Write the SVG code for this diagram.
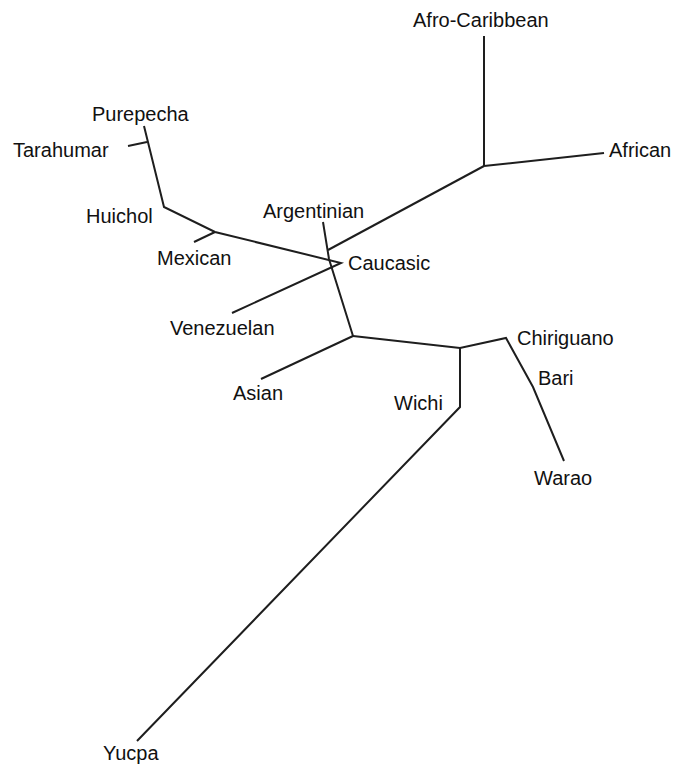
<svg xmlns="http://www.w3.org/2000/svg" width="680" height="771" viewBox="0 0 680 771">
  <style>
    .edge { fill: none; stroke: #1e1e1e; stroke-width: 2; stroke-linecap: butt; stroke-linejoin: miter; }
    .lbl { font-family: "Liberation Sans", Arial, Helvetica, sans-serif; font-size: 20px; fill: #111; }
  </style>
  <rect width="680" height="771" fill="#ffffff"/>

  <!-- tree branches -->
  <g id="connectors">
    <line class="edge" x1="484" y1="36" x2="484" y2="166"/>
    <line class="edge" x1="484" y1="166" x2="604" y2="153"/>
    <line class="edge" x1="484" y1="166" x2="328" y2="250"/>
    <polyline class="edge" points="323,222 329,259 353,336"/>
    <polyline class="edge" points="144,126 164,207 215,232 341,263 232,313"/>
    <line class="edge" x1="128" y1="146" x2="147" y2="142"/>
    <line class="edge" x1="194" y1="242" x2="215" y2="232"/>
    <line class="edge" x1="353" y1="336" x2="261" y2="379"/>
    <polyline class="edge" points="353,336 460,348 506,338 533,387 564,461"/>
    <polyline class="edge" points="460,348 460,407 137,741"/>
  </g>

  <!-- taxon labels -->
  <g id="afro-caribbean"><text class="lbl" x="413" y="27">Afro-Caribbean</text></g>
  <g id="african"><text class="lbl" x="609" y="157">African</text></g>
  <g id="purepecha"><text class="lbl" x="92" y="121">Purepecha</text></g>
  <g id="tarahumar"><text class="lbl" x="13" y="157">Tarahumar</text></g>
  <g id="huichol"><text class="lbl" x="86" y="223">Huichol</text></g>
  <g id="argentinian"><text class="lbl" x="263" y="218">Argentinian</text></g>
  <g id="mexican"><text class="lbl" x="157" y="265">Mexican</text></g>
  <g id="caucasic"><text class="lbl" x="348" y="270">Caucasic</text></g>
  <g id="venezuelan"><text class="lbl" x="170" y="335">Venezuelan</text></g>
  <g id="chiriguano"><text class="lbl" x="517" y="345">Chiriguano</text></g>
  <g id="bari"><text class="lbl" x="538" y="385">Bari</text></g>
  <g id="asian"><text class="lbl" x="233" y="400">Asian</text></g>
  <g id="wichi"><text class="lbl" x="394" y="410">Wichi</text></g>
  <g id="warao"><text class="lbl" x="534" y="485">Warao</text></g>
  <g id="yucpa"><text class="lbl" x="103" y="760">Yucpa</text></g>
</svg>
